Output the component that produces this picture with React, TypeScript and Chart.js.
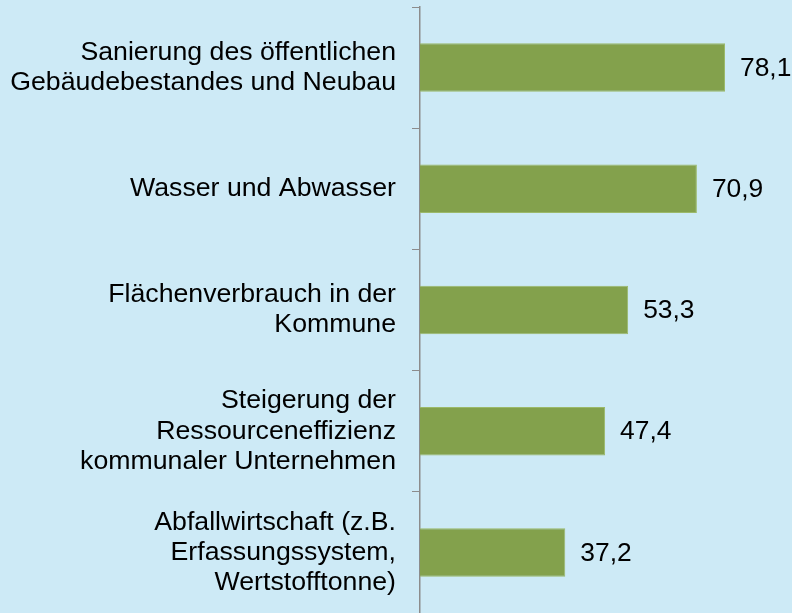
import React, { useEffect, useRef } from "react";
import { Chart, registerables } from "chart.js";

Chart.register(...registerables);

const categories: (string | string[])[] = [
  ["Sanierung des öffentlichen", "Gebäudebestandes und Neubau"],
  "Wasser und Abwasser",
  ["Flächenverbrauch in der", "Kommune"],
  ["Steigerung der", "Ressourceneffizienz", "kommunaler Unternehmen"],
  ["Abfallwirtschaft (z.B.", "Erfassungssystem,", "Wertstofftonne)"],
];
const values: number[] = [78.1, 70.9, 53.3, 47.4, 37.2];

const FONT = "'Liberation Sans', Arial, sans-serif";

const valueLabels = {
  id: "valueLabels",
  afterDatasetsDraw(chart: any) {
    const ctx = chart.ctx;
    const meta = chart.getDatasetMeta(0);
    ctx.save();
    ctx.font = `26.4px ${FONT}`;
    ctx.fillStyle = "#000000";
    ctx.textAlign = "left";
    ctx.textBaseline = "middle";
    meta.data.forEach((bar: any, i: number) => {
      const txt = values[i].toFixed(1).replace(".", ",");
      ctx.fillText(txt, bar.x + 15, bar.y + 1);
    });
    ctx.restore();
  },
};

const bgPlugin = {
  id: "bg",
  beforeDraw(chart: any) {
    const ctx = chart.ctx;
    ctx.save();
    ctx.fillStyle = "#cdeaf6";
    ctx.fillRect(0, 0, chart.width, chart.height);
    ctx.restore();
  },
};

export default function App() {
  const ref = useRef<HTMLCanvasElement>(null);
  useEffect(() => {
    if (!ref.current) return;
    const chart = new Chart(ref.current, {
      type: "bar",
      data: {
        labels: categories,
        datasets: [
          {
            data: values,
            backgroundColor: "#83a14c",
            borderColor: "#9bb96a",
            borderWidth: 1,
            borderSkipped: "left",
            barPercentage: 0.4,
            categoryPercentage: 1,
          },
        ],
      },
      options: {
        indexAxis: "y",
        animation: false,
        responsive: false,
        layout: { padding: { top: 7, right: 1, bottom: 0, left: 0 } },
        plugins: { legend: { display: false }, tooltip: { enabled: false } },
        scales: {
          x: { display: false, min: 0, max: 95 },
          y: {
            afterFit: (s: any) => {
              s.width = 420;
              s.paddingTop = 0;
              s.paddingBottom = 0;
            },
            grid: {
              drawOnChartArea: false,
              drawTicks: true,
              tickLength: 8,
              color: "#8c8c8c",
              lineWidth: 1,
              offset: true,
            },
            border: { display: true, color: "#8c8c8c", width: 1.5 },
            ticks: {
              color: "#000000",
              padding: 16,
              font: { family: FONT, size: 26.7, lineHeight: 1.13 },
            },
          },
        },
      },
      plugins: [bgPlugin, valueLabels],
    });
    return () => chart.destroy();
  }, []);
  return (
    <div
      style={{
        position: "fixed",
        left: 0,
        top: 0,
        width: 792,
        height: 613,
        background: "#cdeaf6",
      }}
    >
      <canvas ref={ref} width={792} height={613} style={{ display: "block" }} />
    </div>
  );
}
